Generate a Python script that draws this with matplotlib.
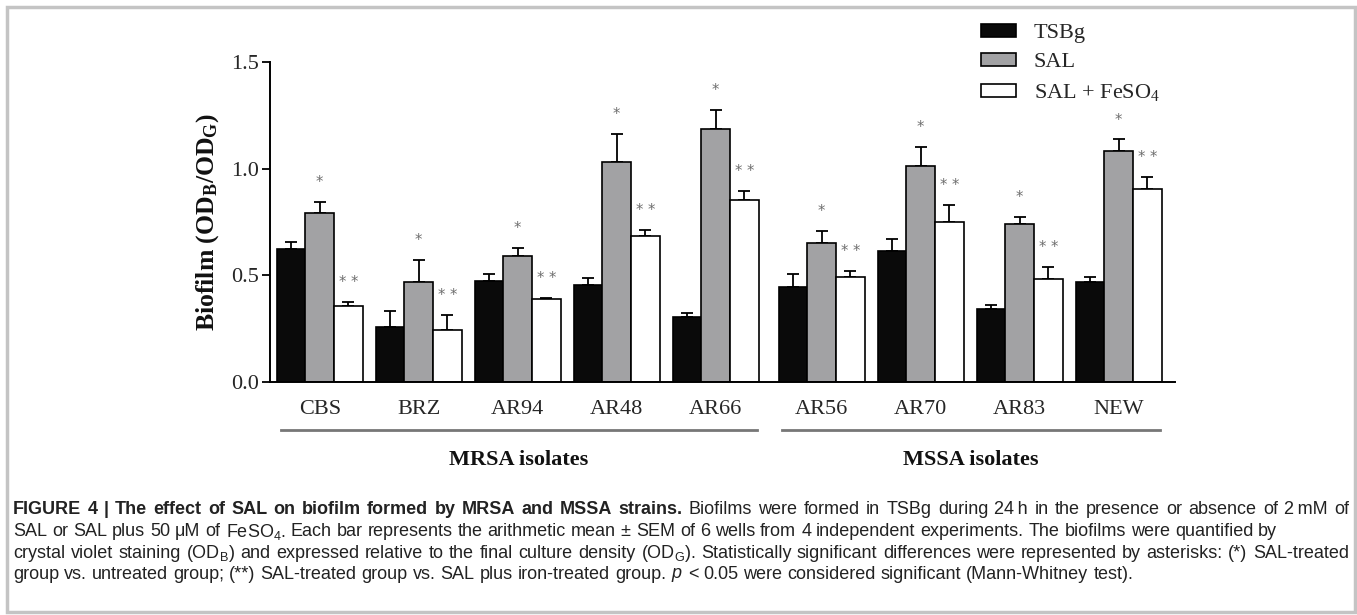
import numpy as np
import matplotlib
matplotlib.use('Agg')
import matplotlib.pyplot as plt
from matplotlib.patches import Rectangle

# biofilm (OD_B/OD_G), mean and SEM per strain
strains = ['CBS', 'BRZ', 'AR94', 'AR48', 'AR66', 'AR56', 'AR70', 'AR83', 'NEW']
tsbg = [0.622, 0.260, 0.474, 0.456, 0.304, 0.448, 0.613, 0.343, 0.468]
tsbg_sem = [0.036, 0.074, 0.035, 0.031, 0.019, 0.059, 0.058, 0.019, 0.023]
sal = [0.794, 0.471, 0.591, 1.033, 1.184, 0.651, 1.011, 0.739, 1.083]
sal_sem = [0.050, 0.100, 0.039, 0.131, 0.089, 0.059, 0.090, 0.033, 0.053]
sal_fe = [0.357, 0.243, 0.388, 0.686, 0.853, 0.491, 0.750, 0.485, 0.905]
sal_fe_sem = [0.019, 0.070, 0.008, 0.025, 0.044, 0.030, 0.080, 0.053, 0.055]
sal_marks = ['*'] * 9
sal_fe_marks = ['* *'] * 9
groups = ['MRSA isolates', 'MSSA isolates']
group_sizes = [5, 4]

series_names = ['TSBg', 'SAL', 'SAL + FeSO$\\mathregular{_4}$']
series_colors = ['#0a0a0a', '#a2a2a4', 'white']

# caption: list of lines, each a list of (text, weight) pieces, plus whether the line is justified
caption = [
    [('FIGURE 4 | The effect of SAL on biofilm formed by MRSA and MSSA strains.', 'bold'),
     ('Biofilms were formed in TSBg during 24\u2009h in the presence or absence of 2\u2009mM of', 'normal')],
    [('SAL or SAL plus 50 \u03bcM of FeSO$\\mathregular{_4}$. Each bar represents the arithmetic mean \u00b1 SEM '
      'of 6 wells from 4 independent experiments. The biofilms were quantified by', 'normal')],
    [('crystal violet staining (OD$\\mathregular{_B}$) and expressed relative to the final culture density '
      '(OD$\\mathregular{_G}$). Statistically significant differences were represented by asterisks: (*) SAL-treated', 'normal')],
    [('group vs. untreated group; (**) SAL-treated group vs. SAL plus iron-treated group. $p$ < 0.05 '
      'were considered significant (Mann-Whitney test).', 'normal')],
]
caption_justify = [True, False, True, False]

plt.rcParams['mathtext.fontset'] = 'custom'
plt.rcParams['mathtext.it'] = 'Liberation Sans:italic'
plt.rcParams['mathtext.rm'] = 'Liberation Sans'

W, H = 1357, 615
fig = plt.figure(figsize=(W / 100, H / 100), dpi=100)

def fx(px):
    return px / W

def fy(py):
    return 1 - py / H

ax = fig.add_axes([fx(270), fy(382.3), fx(1175) - fx(270), (382.3 - 61.7) / H])

# group centres: two clusters with a slightly wider gap between them
pos = np.concatenate([np.arange(5), 5.07 + np.arange(4)])
bw = 0.29
serif = 'Liberation Serif'
dark = '#262626'

bars = []
for k, (vals, errs, col) in enumerate(zip([tsbg, sal, sal_fe],
                                          [tsbg_sem, sal_sem, sal_fe_sem],
                                          series_colors)):
    xs = pos + (k - 1) * bw
    b = ax.bar(xs, vals, width=bw, color=col, edgecolor='black', linewidth=1.2,
               label=series_names[k], zorder=2)
    bars.append(b)
    ax.errorbar(xs, vals, yerr=[np.zeros(len(vals)), errs], fmt='none',
                ecolor='black', elinewidth=1.3, capsize=4.5, capthick=1.3, zorder=1)

# significance marks above the error bars
for marks, vals, errs, k in [(sal_marks, sal, sal_sem, 1), (sal_fe_marks, sal_fe, sal_fe_sem, 2)]:
    for x, m, v, e in zip(pos + (k - 1) * bw, marks, vals, errs):
        ax.text(x, v + e + 0.07, m, ha='center', va='baseline', fontsize=10.5,
                color='#6e6e6e', family='DejaVu Sans')

ax.set_ylim(0, 1.5)
ax.set_xlim(-0.502, 8.64)
ax.set_yticks([0, 0.5, 1.0, 1.5])
ax.set_yticklabels(['0.0', '0.5', '1.0', '1.5'], family=serif, fontsize=16, color=dark)
ax.set_xticks(pos)
ax.set_xticklabels(strains, family=serif, fontsize=16, color=dark)
ax.tick_params(axis='y', length=6, width=1.3, pad=2)
ax.tick_params(axis='x', length=0, pad=13)
for s in ['top', 'right']:
    ax.spines[s].set_visible(False)
for s in ['left', 'bottom']:
    ax.spines[s].set_linewidth(1.4)
ax.set_ylabel('Biofilm (OD$\\mathregular{_B}$/OD$\\mathregular{_G}$)', family=serif,
              fontsize=18.5, fontweight='bold', labelpad=7, color='#111111')

# group underlines and titles
start = 0
for name, n in zip(groups, group_sizes):
    x0 = pos[start] - 1.5 * bw + 0.04
    x1 = pos[start + n - 1] + 1.5 * bw - 0.02
    ax.plot([x0, x1], [-0.149, -0.149], color='#777777', lw=2,
            transform=ax.get_xaxis_transform(), clip_on=False)
    ax.text((x0 + x1) / 2, -0.242, name, ha='center', va='center', family=serif,
            fontsize=16, fontweight='bold', transform=ax.get_xaxis_transform(), color='#111111')
    start += n

ax.legend(handles=bars, loc='upper left', bbox_to_anchor=(fx(981), fy(24)),
          bbox_transform=fig.transFigure, frameon=False,
          prop={'family': serif, 'size': 16}, labelcolor=dark,
          handlelength=1.58, handleheight=0.5, handletextpad=0.8, labelspacing=0.45,
          borderpad=0, borderaxespad=0)

# outer frame
fig.add_artist(Rectangle((fx(7), fy(612)), fx(1348), (612 - 7) / H, transform=fig.transFigure,
                         fill=False, edgecolor='#c4c4c4', linewidth=2.5))

# caption, set word by word so that full lines can be justified
cap_font = 'Liberation Sans'
cap_size = 13
cap_left, cap_right = 13, 1349
line_y = [510, 531.5, 553, 574.5]
renderer = fig.canvas.get_renderer()

def width_of(s, weight):
    t = fig.text(0, 0, s, family=cap_font, fontsize=cap_size, fontweight=weight)
    w = t.get_window_extent(renderer).width
    t.remove()
    return w

space = width_of('a a', 'normal') - width_of('aa', 'normal')

for y, pieces, justify in zip(line_y, caption, caption_justify):
    words = [(w, weight) for s, weight in pieces for w in s.split(' ')]
    texts = [fig.text(0, fy(y), w, family=cap_font, fontsize=cap_size, fontweight=weight,
                      va='center', color='#222222') for w, weight in words]
    widths = [t.get_window_extent(renderer).width for t in texts]
    gap = space
    if justify:
        gap = max(space, (cap_right - cap_left - sum(widths)) / (len(words) - 1))
    x = cap_left
    for t, w in zip(texts, widths):
        t.set_x(fx(x))
        x += w + gap

fig.savefig('out.png', dpi=100)
